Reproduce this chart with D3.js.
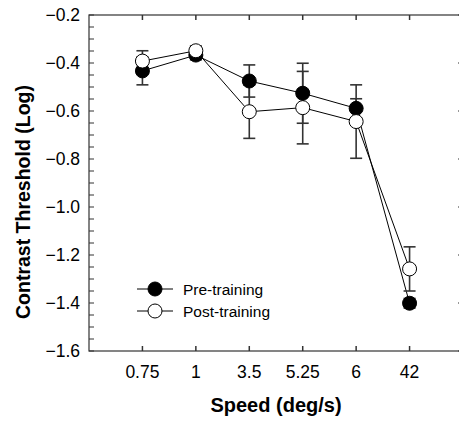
<!DOCTYPE html>
<html><head><meta charset="utf-8">
<script src="https://cdn.jsdelivr.net/npm/d3@7"></script>
<style>body{margin:0;background:#fff}svg{display:block}text{font-family:"Liberation Sans",Arial,sans-serif}</style>
</head><body><svg id="c" width="459" height="424"></svg>
<script>
const categories = ["0.75","1","3.5","5.25","6","42"];
const preValues  = [-0.433,-0.367,-0.475,-0.526,-0.589,-1.401];
const preErrors  = [0.058,0.02,0.067,0.125,0.04,0.02];
const postValues = [-0.392,-0.349,-0.603,-0.586,-0.644,-1.258];
const postErrors = [0.043,0.02,0.111,0.151,0.153,0.092];
const yTicks = [-0.2,-0.4,-0.6,-0.8,-1.0,-1.2,-1.4,-1.6];
const seriesNames = ["Pre-training","Post-training"];

const svg = d3.select("#c");
const L=89, R=463, T=15, B=351;
const x = d3.scaleLinear().domain([0, categories.length+1]).range([L,R]);
const y = d3.scaleLinear().domain([-1.6,-0.2]).range([B,T]);
const xi = i => x(i+1);
const axisColor = "#333";

// frame
svg.append("rect").attr("x",L).attr("y",T).attr("width",R-L).attr("height",B-T)
  .attr("fill","none").attr("stroke",axisColor).attr("stroke-width",1.2);

const yMinor = d3.range(-1.6,-0.2+1e-9,0.05);
const g = svg.append("g");
yMinor.forEach(v=>{
  g.append("line").attr("x1",L).attr("x2",L+5).attr("y1",y(v)).attr("y2",y(v)).attr("stroke",axisColor);
});
yTicks.forEach(v=>{
  g.append("line").attr("x1",R).attr("x2",R-5).attr("y1",y(v)).attr("y2",y(v)).attr("stroke",axisColor);
});
categories.forEach((c,i)=>{
  g.append("line").attr("x1",xi(i)).attr("x2",xi(i)).attr("y1",B).attr("y2",B-5).attr("stroke",axisColor).attr("stroke-width",1.5);
  g.append("line").attr("x1",xi(i)).attr("x2",xi(i)).attr("y1",T).attr("y2",T+5).attr("stroke",axisColor).attr("stroke-width",1.5);
});

svg.append("g").selectAll("text").data(yTicks).join("text")
  .attr("x",80).attr("y",d=>y(d)).attr("dy","0.36em").attr("text-anchor","end")
  .attr("font-size","17.5px").attr("fill","#000").text(d=>d3.format(".1f")(d));
svg.append("g").selectAll("text").data(categories).join("text")
  .attr("x",(d,i)=>xi(i)).attr("y",378).attr("text-anchor","middle")
  .attr("font-size","17.5px").attr("fill","#000").text(d=>d);

svg.append("text").attr("x",276).attr("y",412).attr("text-anchor","middle")
  .attr("font-size","20px").attr("font-weight","bold").text("Speed (deg/s)");
svg.append("text").attr("transform","translate(30,202) rotate(-90)").attr("text-anchor","middle")
  .attr("font-size","19.5px").attr("font-weight","bold").text("Contrast Threshold (Log)");

const line = d3.line().x((d,i)=>xi(i)).y(d=>y(d));
svg.append("path").attr("d",line(preValues)).attr("fill","none").attr("stroke","#000").attr("stroke-width",1);
svg.append("path").attr("d",line(postValues)).attr("fill","none").attr("stroke","#000").attr("stroke-width",1);

function errBars(vals, errs){
  const eg = svg.append("g").attr("stroke","#333").attr("stroke-width",1.6);
  vals.forEach((v,i)=>{
    const cx=xi(i), y1=y(v+errs[i]), y2=y(v-errs[i]);
    eg.append("line").attr("x1",cx).attr("x2",cx).attr("y1",y1).attr("y2",y2);
    eg.append("line").attr("x1",cx-6).attr("x2",cx+6).attr("y1",y1).attr("y2",y1);
    eg.append("line").attr("x1",cx-6).attr("x2",cx+6).attr("y1",y2).attr("y2",y2);
  });
}
errBars(preValues,preErrors);
errBars(postValues,postErrors);

const R0=7;
svg.append("g").selectAll("circle").data(preValues).join("circle")
  .attr("cx",(d,i)=>xi(i)).attr("cy",d=>y(d)).attr("r",R0).attr("fill","#000").attr("stroke","#000");
svg.append("g").selectAll("circle").data(postValues).join("circle")
  .attr("cx",(d,i)=>xi(i)).attr("cy",d=>y(d)).attr("r",R0).attr("fill","#fff").attr("stroke","#000");

const leg = [[seriesNames[0],"#000",289],[seriesNames[1],"#fff",311]];
leg.forEach(([name,fill,ly])=>{
  svg.append("line").attr("x1",137).attr("x2",173).attr("y1",ly).attr("y2",ly).attr("stroke","#000");
  svg.append("circle").attr("cx",155).attr("cy",ly).attr("r",R0).attr("fill",fill).attr("stroke","#000");
  svg.append("text").attr("x",183).attr("y",ly).attr("dy","0.36em").attr("font-size","15.5px").text(name);
});
</script></body></html>
